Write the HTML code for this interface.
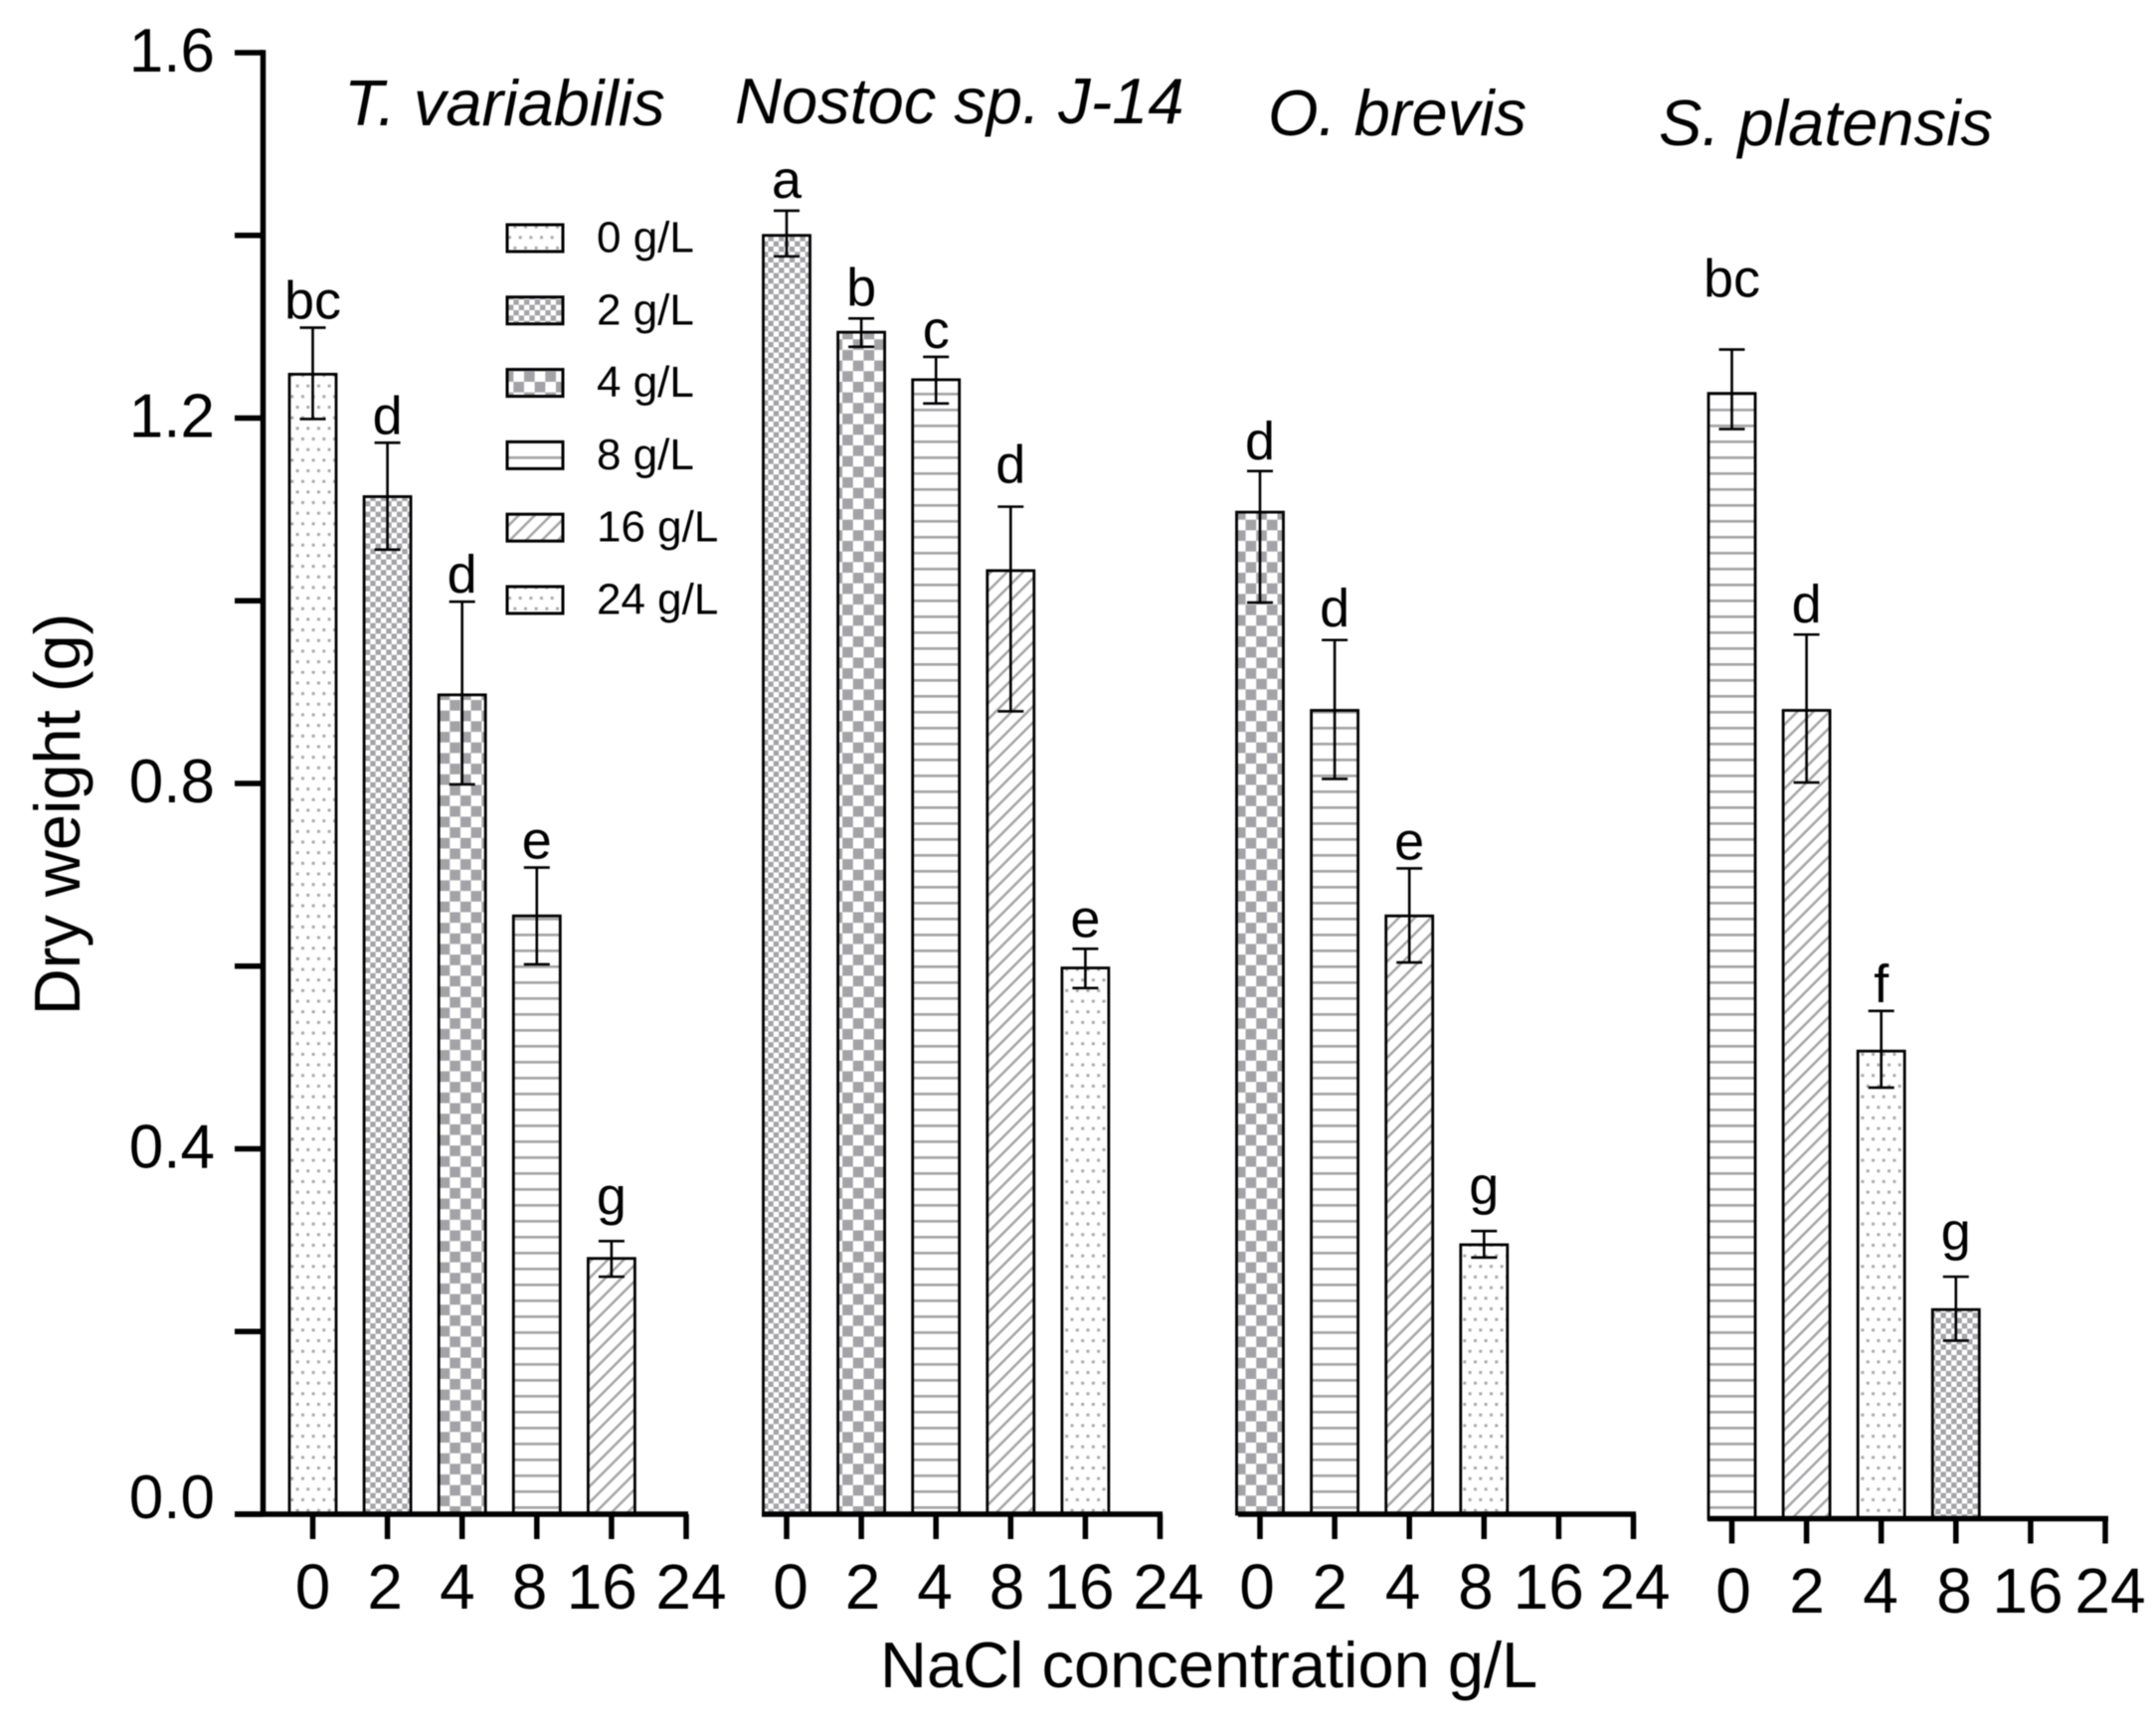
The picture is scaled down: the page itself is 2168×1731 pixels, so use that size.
<!DOCTYPE html>
<html lang="en">
<head>
<meta charset="utf-8">
<title>Dry weight vs NaCl concentration</title>
<style>
html,body{margin:0;padding:0;background:#fff;}
svg{display:block;filter:blur(0.5px);}
text{font-family:"Liberation Sans",Arial,sans-serif;fill:#000;}
</style>
</head>
<body>
<svg id="chart" xmlns="http://www.w3.org/2000/svg" width="2168" height="1731" viewBox="0 0 2168 1731">
  <defs>
    <pattern id="p-dots" patternUnits="userSpaceOnUse" x="297.6" y="1411" width="10.67" height="21.34">
      <rect x="0" y="0" width="3" height="3" fill="#aaaaad"/>
      <rect x="5.33" y="10.67" width="3" height="3" fill="#aaaaad"/>
    </pattern>
    <pattern id="p-fine" patternUnits="userSpaceOnUse" x="367" y="1411" width="10.67" height="10.67">
      <rect width="5.33" height="5.33" fill="#a3a3a7"/>
      <rect x="5.33" y="5.33" width="5.34" height="5.34" fill="#a3a3a7"/>
    </pattern>
    <pattern id="p-coarse" patternUnits="userSpaceOnUse" x="452.3" y="1408.3" width="21.34" height="21.34">
      <rect width="10.67" height="10.67" fill="#a3a3a7"/>
      <rect x="10.67" y="10.67" width="10.67" height="10.67" fill="#a3a3a7"/>
    </pattern>
    <pattern id="p-horizontal" patternUnits="userSpaceOnUse" x="0" y="1403" width="16" height="16">
      <rect x="0" y="0" width="16" height="2.7" fill="#a5a5a8"/>
    </pattern>
    <pattern id="p-diagonal" patternUnits="userSpaceOnUse" width="11.4" height="11.4" patternTransform="rotate(-45)">
      <rect x="0" y="4.5" width="11.4" height="2.5" fill="#a5a5a8"/>
    </pattern>
  </defs>
  <text transform="translate(80 819) rotate(-90)" text-anchor="middle" font-size="65">Dry weight (g)</text>
  <text x="885" y="1697" font-size="65">NaCl concentration g/L</text>
  <g id="layer"></g>
</svg>
<script>
// ---- Data ----
const yTickValues = [1.6, 1.4, 1.2, 1.0, 0.8, 0.6, 0.4, 0.2, 0.0];
const yTickLabels = ['1.6', '', '1.2', '', '0.8', '', '0.4', '', '0.0'];
const xCategories = ['0', '2', '4', '8', '16', '24'];
const legendLabels = ['0 g/L', '2 g/L', '4 g/L', '8 g/L', '16 g/L', '24 g/L'];
const legendPatterns = ['dots', 'fine', 'coarse', 'horizontal', 'diagonal', 'dots'];
const speciesNames = ['T. variabilis', 'Nostoc sp. J-14', 'O. brevis', 'S. platensis'];

const tVariabilisValues = [1.248, 1.114, 0.897, 0.655, 0.280];
const tVariabilisUpper = [1.299, 1.173, 0.999, 0.708, 0.299];
const tVariabilisLower = [1.199, 1.056, 0.799, 0.602, 0.260];
const tVariabilisLetters = ['bc', 'd', 'd', 'e', 'g'];
const tVariabilisPatterns = ['dots', 'fine', 'coarse', 'horizontal', 'diagonal'];

const nostocValues = [1.400, 1.294, 1.242, 1.033, 0.598];
const nostocUpper = [1.427, 1.309, 1.267, 1.103, 0.619];
const nostocLower = [1.377, 1.278, 1.216, 0.879, 0.576];
const nostocLetters = ['a', 'b', 'c', 'd', 'e'];
const nostocPatterns = ['fine', 'coarse', 'horizontal', 'diagonal', 'dots'];

const oBrevisValues = [1.097, 0.880, 0.655, 0.295];
const oBrevisUpper = [1.142, 0.957, 0.707, 0.310];
const oBrevisLower = [0.998, 0.805, 0.604, 0.281];
const oBrevisLetters = ['d', 'd', 'e', 'g'];
const oBrevisPatterns = ['coarse', 'horizontal', 'diagonal', 'dots'];

const sPlatensisValues = [1.227, 0.880, 0.507, 0.224];
const sPlatensisUpper = [1.275, 0.963, 0.551, 0.260];
const sPlatensisLower = [1.188, 0.801, 0.467, 0.190];
const sPlatensisLetters = ['bc', 'd', 'f', 'g'];
const sPlatensisPatterns = ['horizontal', 'diagonal', 'dots', 'fine'];

// ---- Layout ----
const SVG_NS = 'http://www.w3.org/2000/svg';
const layer = document.getElementById('layer');
const AXIS_TOP = 53, AXIS_ZERO = 1523, Y_MAX = 1.6;
const yScale = function (v) { return AXIS_ZERO - (v / Y_MAX) * (AXIS_ZERO - AXIS_TOP); };
const TICK_STEP = 75.1, BAR_W = 47;

const panels = [
  { key: 't-variabilis', name: speciesNames[0], values: tVariabilisValues, upper: tVariabilisUpper, lower: tVariabilisLower, letters: tVariabilisLetters, patterns: tVariabilisPatterns, x0: 314.5, axisStart: 236, axisEnd: 692, base: AXIS_ZERO, labelStart: 314.5, labelStep: 72.7, labelLast: 695, labelY: 1618, titleX: 346, titleY: 126, titleSize: 65, raise: {} },
  { key: 'nostoc', name: speciesNames[1], values: nostocValues, upper: nostocUpper, lower: nostocLower, letters: nostocLetters, patterns: nostocPatterns, x0: 791, axisStart: 766, axisEnd: 1169, base: AXIS_ZERO, labelStart: 795, labelStep: 72.5, labelLast: 1175, labelY: 1618, titleX: 739, titleY: 124, titleSize: 65, raise: { 0: 4, 1: 4, 2: 0, 3: 15, 4: 3 } },
  { key: 'o-brevis', name: speciesNames[2], values: oBrevisValues, upper: oBrevisUpper, lower: oBrevisLower, letters: oBrevisLetters, patterns: oBrevisPatterns, x0: 1267, axisStart: 1245, axisEnd: 1645, base: AXIS_ZERO, labelStart: 1264, labelStep: 73.3, labelLast: 1644, labelY: 1618, titleX: 1275, titleY: 136, titleSize: 65, raise: { 0: 3, 1: 5 } },
  { key: 's-platensis', name: speciesNames[3], values: sPlatensisValues, upper: sPlatensisUpper, lower: sPlatensisLower, letters: sPlatensisLetters, patterns: sPlatensisPatterns, x0: 1741.5, axisStart: 1717, axisEnd: 2120, base: AXIS_ZERO + 4.5, labelStart: 1743, labelStep: 74, labelLast: 2122, labelY: 1622, titleX: 1668, titleY: 146, titleSize: 65, raise: { 0: 44, 1: 3 } }
];

function make(tag, attrs, parent, content) {
  const el = document.createElementNS(SVG_NS, tag);
  Object.keys(attrs).forEach(function (k) { el.setAttribute(k, attrs[k]); });
  if (content !== undefined) el.textContent = content;
  (parent || layer).appendChild(el);
  return el;
}

// ---- Y axis ----
const yAxisLine = make('line', { x1: 264.5, x2: 264.5, y1: AXIS_TOP - 2.7, y2: AXIS_ZERO, stroke: '#000', 'stroke-width': 5.5 });



yTickValues.forEach(function (v, i) {
  const y = yScale(v);
  const tick = make('line', { x1: 236, x2: 264.5, y1: y, y2: y, stroke: '#000', 'stroke-width': 5.5 });
  
  
  if (yTickLabels[i]) {
    const labelY = v === 0 ? y + 4 : y + 19;
    const label = make('text', { x: 216, y: labelY, 'text-anchor': 'end', 'font-size': 62 }, layer, yTickLabels[i]);
    
    
  }
});

// ---- Panels ----
panels.forEach(function (p) {
  const group = make('g', {});
  
  

  const title = make('text', { x: p.titleX, y: p.titleY, 'font-size': p.titleSize, 'font-style': 'italic' }, group, p.name);
  
  

  p.values.forEach(function (v, i) {
    const cx = p.x0 + i * TICK_STEP;
    const top = yScale(v);
    const bar = make('rect', { x: cx - BAR_W / 2, y: top, width: BAR_W, height: p.base - top, fill: '#fff' }, group);
    
    
    const hatch = make('rect', { x: cx - BAR_W / 2, y: top, width: BAR_W, height: p.base - top, fill: 'url(#p-' + p.patterns[i] + ')', stroke: '#000', 'stroke-width': 2.8 }, group);
    
    

    const hi = yScale(p.upper[i]);
    const lo = yScale(p.lower[i]);
    const err = make('path', { d: 'M' + (cx - 13) + ' ' + hi + 'H' + (cx + 13) + 'M' + cx + ' ' + hi + 'V' + lo + 'M' + (cx - 13) + ' ' + lo + 'H' + (cx + 13), fill: 'none', stroke: '#000', 'stroke-width': 2.6 }, group);
    
    

    const letter = p.letters[i];
    const gap = (letter === 'g' ? 27 : 9) + (p.raise[i] || 0);
    const sig = make('text', { x: cx, y: hi - gap, 'text-anchor': 'middle', 'font-size': 54 }, group, letter);
    
    
  });

  const axis = make('line', { x1: p.axisStart, x2: p.axisEnd, y1: p.base, y2: p.base, stroke: '#000', 'stroke-width': 5.5 }, group);
  
  

  xCategories.forEach(function (c, i) {
    const tx = p.x0 + i * TICK_STEP;
    const tick = make('line', { x1: tx, x2: tx, y1: p.base, y2: p.base + 25, stroke: '#000', 'stroke-width': 5.5 }, group);
    
    
    const lx = i === 5 ? p.labelLast : p.labelStart + i * p.labelStep;
    const label = make('text', { x: lx, y: p.labelY, 'text-anchor': 'middle', 'font-size': 64 }, group, c);
    
    
  });
});

// ---- Legend ----
const legend = make('g', {});


legendLabels.forEach(function (text, i) {
  const cy = 239.5 + i * 72.8;
  const swatch = make('rect', { x: 510, y: cy - 13.5, width: 56, height: 27, fill: 'url(#p-' + legendPatterns[i] + ')', stroke: '#000', 'stroke-width': 3 }, legend);
  
  
  const label = make('text', { x: 600, y: cy + 14, 'font-size': 44 }, legend, text);
  
  
});
</script>
</body>
</html>
